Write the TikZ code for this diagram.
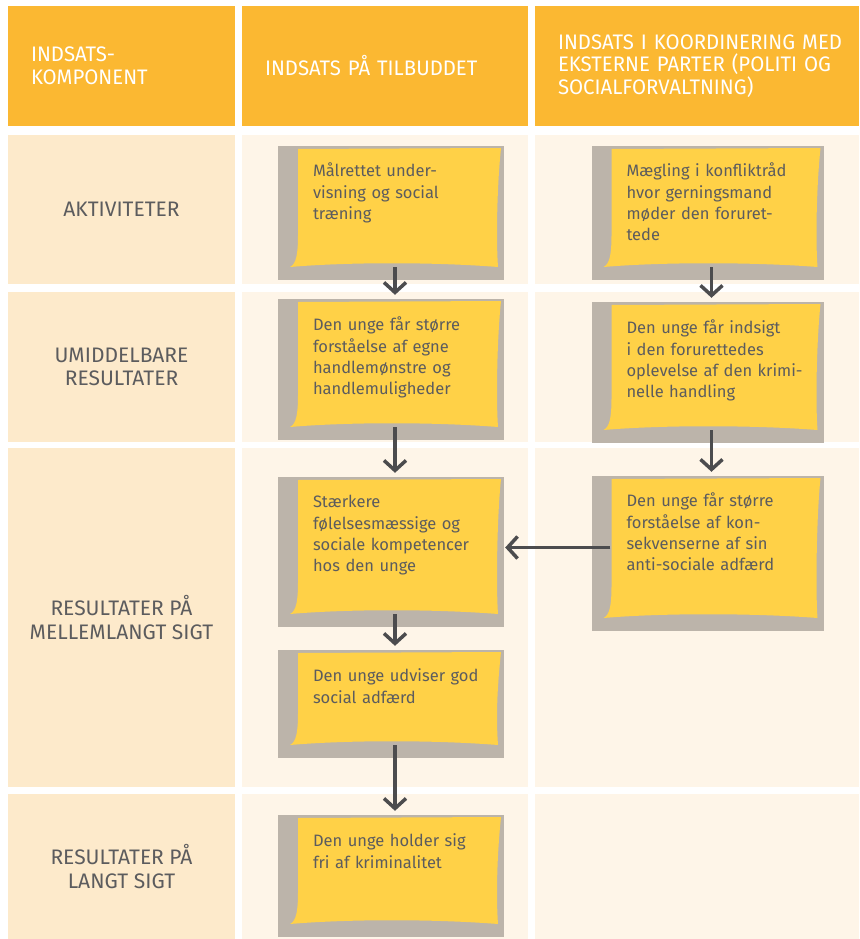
\documentclass[tikz,border=0pt]{standalone}
\usepackage{fontspec}
\setmainfont{Fira Sans}
\newfontfamily\headfont{Fira Sans}[FakeStretch=0.97]
\usetikzlibrary{arrows.meta,calc,positioning}

\definecolor{headorange}{HTML}{FBB832}
\definecolor{labelcream}{HTML}{FDEACB}
\definecolor{bodycream}{HTML}{FEF5E8}
\definecolor{notegray}{HTML}{BCB4AA}
\definecolor{notefill}{HTML}{FFD147}
\definecolor{inkgray}{HTML}{5C5C5E}
\definecolor{arrowgray}{HTML}{4C4C4E}

\tikzset{
  cellhead/.style={fill=headorange, text=white, font=\headfont\fontsize{21}{22.8}\selectfont,
    align=left, inner xsep=23pt, inner ysep=0pt, minimum height=120pt},
  celllabel/.style={fill=labelcream, text=inkgray, font=\fontsize{21}{23.5}\selectfont,
    align=center, inner sep=0pt, minimum width=227pt},
  cellbody/.style={fill=bodycream, inner sep=0pt},
  note/.style={fill=notegray, inner sep=0pt, path picture={
    \coordinate (nw) at (path picture bounding box.north west);
    \coordinate (ne) at (path picture bounding box.north east);
    \coordinate (se) at (path picture bounding box.south east);
    \coordinate (sw) at (path picture bounding box.south west);
    \fill[notefill] ($(nw)+(20pt,-3pt)$) -- ($(ne)+(-3pt,-2pt)$)
      .. controls ($(ne)+(-7pt,-40pt)$) and ($(se)+(-8pt,40pt)$) .. ($(se)+(-6pt,13pt)$)
      .. controls ($(se)+(-70pt,18pt)$) and ($(sw)+(70pt,18pt)$) .. ($(sw)+(12pt,13pt)$)
      .. controls ($(sw)+(18pt,16pt)$) and ($(sw)+(20pt,25pt)$) .. ($(sw)+(20pt,45pt)$)
      -- cycle;}},
  notetext/.style={text=inkgray, font=\fontsize{16.5}{21.3}\selectfont, align=left,
    text width=190pt, inner sep=0pt, anchor=base west},
  flow/.style={draw=arrowgray, line width=3.5pt, -{Straight Barb[length=10pt,width=22pt]},
    shorten <=-13pt, shorten >=4pt}
}

\begin{document}
\begin{tikzpicture}[x=1pt,y=-1pt]
	\useasboundingbox (0,0) rectangle (859,939);

	% header row
	\node[cellhead, text width=181pt] (h1) at (121.5,66) {INDSATS-\\KOMPONENT};
	\node[cellhead, text width=240pt] (h2) at (385,66) {INDSATS PÅ TILBUDDET};
	\node[cellhead, text width=278pt] (h3) at (697,66) {\makebox[278pt][l]{INDSATS I KOORDINERING MED}\\EKSTERNE PARTER (POLITI OG\\SOCIALFORVALTNING)};

	% rows
	\node[celllabel, minimum height=149pt] (r1) at (121.5,209.5) {AKTIVITETER};
	\node[cellbody, minimum width=286pt, minimum height=149pt] (r1b) at (385,209.5) {};
	\node[cellbody, minimum width=324pt, minimum height=149pt] (r1c) at (697,209.5) {};
	\node[celllabel, minimum height=150pt] (r2) at (121.5,367) {UMIDDELBARE\\RESULTATER};
	\node[cellbody, minimum width=286pt, minimum height=150pt] (r2b) at (385,367) {};
	\node[cellbody, minimum width=324pt, minimum height=150pt] (r2c) at (697,367) {};
	\node[celllabel, minimum height=339pt] (r3) at (121.5,617.5) {RESULTATER PÅ\\MELLEMLANGT SIGT};
	\node[cellbody, minimum width=286pt, minimum height=339pt] (r3b) at (385,617.5) {};
	\node[cellbody, minimum width=324pt, minimum height=339pt] (r3c) at (697,617.5) {};
	\node[celllabel, minimum height=145pt] (r4) at (121.5,866.5) {RESULTATER PÅ\\LANGT SIGT};
	\node[cellbody, minimum width=286pt, minimum height=145pt] (r4b) at (385,866.5) {};
	\node[cellbody, minimum width=324pt, minimum height=145pt] (r4c) at (697,866.5) {};

	% notes, tilbuddet
	\node[note, minimum width=226pt, minimum height=134pt] (a1) at (391,213) {};
	\node[notetext] (a1t) at ([shift={(35pt,-31pt)}]a1.north west) {Målrettet under-\\visning og social\\træning};
	\node[note, minimum width=226pt, minimum height=141pt] (a2) at (391,369.5) {};
	\node[notetext] (a2t) at ([shift={(35pt,-32pt)}]a2.north west) {Den unge får større\\forståelse af egne\\handlemønstre og\\handlemuligheder};
	\node[note, minimum width=226pt, minimum height=150pt] (a3) at (391,552) {};
	\node[notetext] (a3t) at ([shift={(35pt,-31pt)}]a3.north west) {Stærkere\\følelsesmæssige og\\sociale kompetencer\\hos den unge};
	\node[note, minimum width=226pt, minimum height=108pt] (a4) at (391,704) {};
	\node[notetext] (a4t) at ([shift={(35pt,-32pt)}]a4.north west) {Den unge udviser god\\social adfærd};
	\node[note, minimum width=226pt, minimum height=122pt] (a5) at (391,876) {};
	\node[notetext] (a5t) at ([shift={(35pt,-32pt)}]a5.north west) {Den unge holder sig\\fri af kriminalitet};

	% notes, eksterne parter
	\node[note, minimum width=232pt, minimum height=134pt] (b1) at (707.5,213) {};
	\node[notetext] (b1t) at ([shift={(35pt,-31pt)}]b1.north west) {Mægling i konfliktråd\\hvor gerningsmand\\møder den foruret-\\tede};
	\node[note, minimum width=232pt, minimum height=141pt] (b2) at (707.5,372.5) {};
	\node[notetext] (b2t) at ([shift={(35pt,-32pt)}]b2.north west) {Den unge får indsigt\\i den forurettedes\\oplevelse af den krimi-\\nelle handling};
	\node[note, minimum width=232pt, minimum height=155pt] (b3) at (707.5,553.5) {};
	\node[notetext] (b3t) at ([shift={(35pt,-31pt)}]b3.north west) {Den unge får større\\forståelse af kon-\\sekvenserne af sin\\anti-sociale adfærd};

	% arrows
	\draw[flow] ([xshift=4pt]a1.south) -- ([xshift=4pt]a2.north);
	\draw[flow] ([xshift=4pt]a2.south) -- ([xshift=4pt]a3.north);
	\draw[flow] ([xshift=4pt]a3.south) -- ([xshift=4pt]a4.north);
	\draw[flow] ([xshift=4pt]a4.south) -- ([xshift=4pt]a5.north);
	\draw[flow] ([xshift=4pt]b1.south) -- ([xshift=4pt]b2.north);
	\draw[flow] ([xshift=4pt]b2.south) -- ([xshift=4pt]b3.north);
	\coordinate (m3) at ([yshift=6pt]b3.west);
	\draw[flow, shorten <=-19pt, shorten >=1pt] (m3) -- (m3 -| a3.east);
\end{tikzpicture}
\end{document}
